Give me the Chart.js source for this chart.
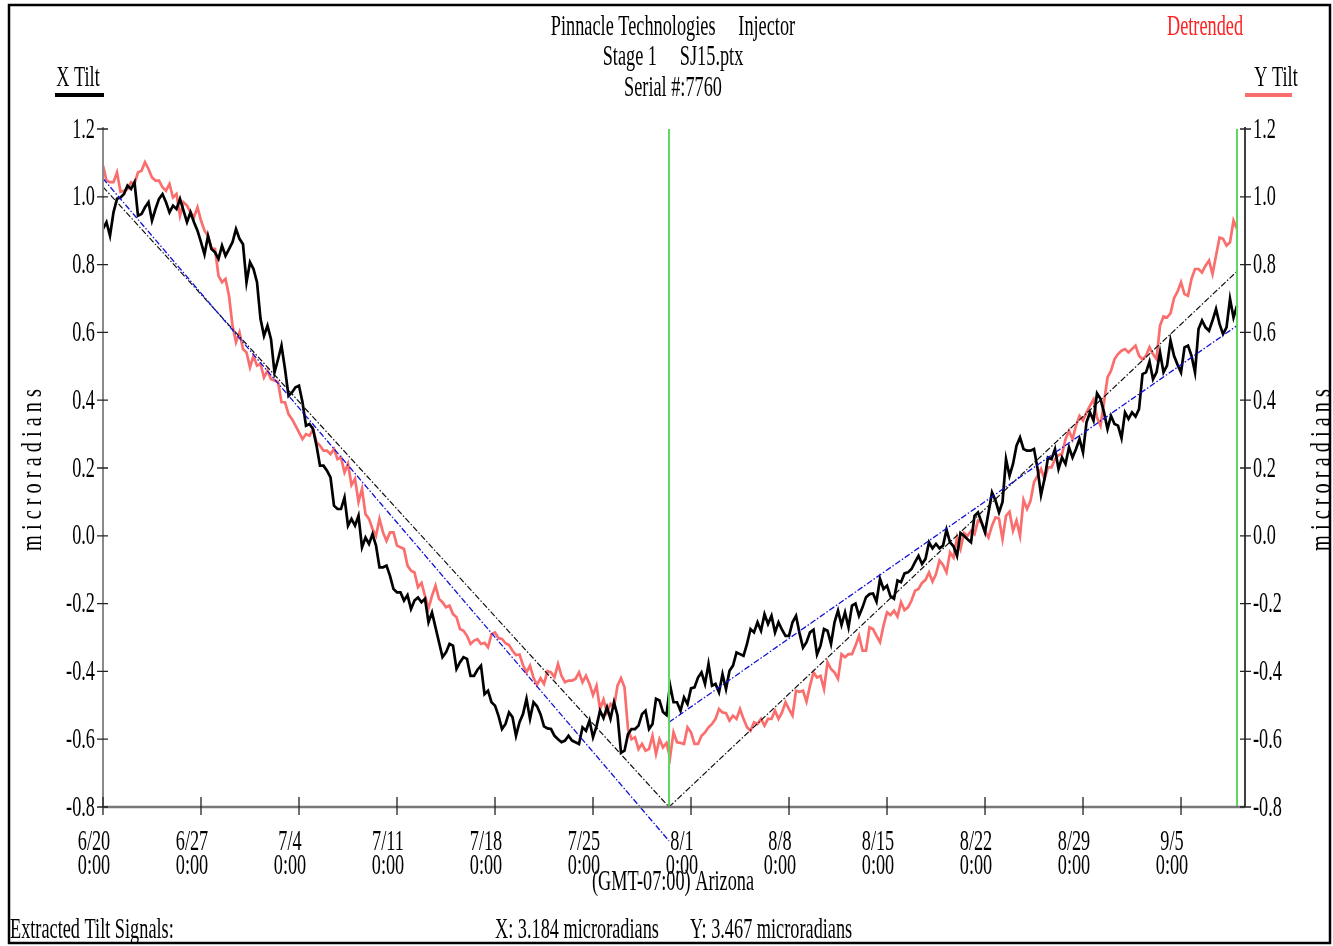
<!DOCTYPE html>
<html>
<head>
<meta charset="utf-8">
<title>Pinnacle Technologies Injector - Tilt</title>
<script src="https://cdn.jsdelivr.net/npm/chart.js@4.4.0/dist/chart.umd.min.js"></script>
<style>
  html, body { margin: 0; padding: 0; background: #fff; }
  #wrap { width: 1333px; height: 946px; }
</style>
</head>
<body>
<div id="wrap"><canvas id="tiltChart" width="1333" height="946"></canvas></div>
<script>
// one sample every quarter day, day 0 = 6/20 0:00
const sampleStep = 0.25;

// X tilt (black), microradians - 2 days per row
const xTilt = [
  0.905, 0.925, 0.885, 0.954, 0.994, 0.998, 1.008, 1.033,
  1.023, 1.043, 0.944, 0.949, 0.969, 0.984, 0.930, 0.964,
  0.994, 1.008, 0.984, 0.954, 0.974, 0.964, 0.994, 0.959,
  0.925, 0.954, 0.925, 0.900, 0.866, 0.830, 0.885, 0.846,
  0.836, 0.817, 0.856, 0.826, 0.846, 0.866, 0.905, 0.876,
  0.860, 0.748, 0.807, 0.787, 0.748, 0.640, 0.590, 0.620,
  0.580, 0.482, 0.520, 0.561, 0.492, 0.413, 0.423, 0.438,
  0.443, 0.394, 0.325, 0.330, 0.315, 0.266, 0.207, 0.207,
  0.192, 0.172, 0.089, 0.079, 0.079, 0.113, 0.030, 0.050,
  0.030, 0.059, -0.034, -0.005, -0.024, 0.005, -0.029, -0.093,
  -0.093, -0.088, -0.118, -0.157, -0.167, -0.167, -0.191, -0.175,
  -0.216, -0.191, -0.182, -0.196, -0.186, -0.255, -0.226, -0.270,
  -0.314, -0.358, -0.344, -0.319, -0.324, -0.393, -0.373, -0.358,
  -0.363, -0.413, -0.413, -0.395, -0.383, -0.467, -0.457, -0.491,
  -0.501, -0.531, -0.570, -0.555, -0.521, -0.535, -0.590, -0.550,
  -0.526, -0.481, -0.540, -0.491, -0.503, -0.526, -0.562, -0.568,
  -0.570, -0.590, -0.600, -0.609, -0.604, -0.590, -0.604, -0.609,
  -0.614, -0.565, -0.575, -0.545, -0.594, -0.562, -0.516, -0.538,
  -0.506, -0.540, -0.491, -0.530, -0.640, -0.634, -0.585, -0.570,
  -0.570, -0.560, -0.526, -0.516, -0.570, -0.555, -0.481, -0.486,
  -0.520, -0.529, -0.440, -0.491, -0.491, -0.516, -0.477, -0.496,
  -0.450, -0.447, -0.418, -0.403, -0.437, -0.378, -0.442, -0.437,
  -0.462, -0.408, -0.452, -0.398, -0.383, -0.344, -0.349, -0.354,
  -0.319, -0.275, -0.285, -0.255, -0.280, -0.231, -0.260, -0.236,
  -0.285, -0.255, -0.277, -0.295, -0.295, -0.255, -0.236, -0.287,
  -0.330, -0.314, -0.285, -0.277, -0.350, -0.324, -0.275, -0.280,
  -0.319, -0.255, -0.221, -0.263, -0.226, -0.270, -0.206, -0.200,
  -0.236, -0.211, -0.181, -0.172, -0.170, -0.194, -0.127, -0.157,
  -0.147, -0.179, -0.186, -0.132, -0.137, -0.111, -0.108, -0.098,
  -0.078, -0.059, -0.083, -0.068, -0.019, -0.037, -0.024, -0.037,
  -0.029, 0.018, -0.019, -0.031, -0.059, 0.008, 0.000, -0.010,
  -0.019, 0.059, 0.069, 0.040, 0.010, 0.069, 0.128, 0.104,
  0.069, 0.100, 0.226, 0.177, 0.212, 0.266, 0.290, 0.256,
  0.251, 0.251, 0.256, 0.199, 0.120, 0.168, 0.231, 0.226,
  0.256, 0.197, 0.231, 0.212, 0.261, 0.231, 0.256, 0.286,
  0.246, 0.335, 0.364, 0.340, 0.420, 0.404, 0.364, 0.315,
  0.354, 0.330, 0.325, 0.288, 0.364, 0.345, 0.364, 0.352,
  0.374, 0.477, 0.482, 0.514, 0.462, 0.482, 0.541, 0.482,
  0.502, 0.576, 0.531, 0.505, 0.482, 0.556, 0.561, 0.531,
  0.482, 0.610, 0.635, 0.615, 0.605, 0.635, 0.669, 0.625,
  0.595, 0.615, 0.699, 0.644, 0.679
];

// Y tilt (salmon), microradians - 2 days per row
const yTilt = [
  1.092, 1.048, 1.043, 1.043, 1.072, 1.015, 1.018, 1.023,
  1.043, 1.038, 1.072, 1.077, 1.102, 1.082, 1.057, 1.048,
  1.048, 1.028, 1.018, 1.038, 0.998, 1.008, 0.944, 0.984,
  0.974, 0.954, 0.940, 0.969, 0.930, 0.900, 0.885, 0.848,
  0.846, 0.767, 0.748, 0.758, 0.708, 0.620, 0.571, 0.600,
  0.551, 0.541, 0.497, 0.531, 0.502, 0.507, 0.467, 0.487,
  0.462, 0.458, 0.453, 0.394, 0.394, 0.359, 0.344, 0.325,
  0.305, 0.285, 0.300, 0.295, 0.315, 0.276, 0.266, 0.251,
  0.251, 0.241, 0.256, 0.226, 0.231, 0.187, 0.212, 0.150,
  0.168, 0.100, 0.138, 0.064, 0.050, 0.020, 0.000, 0.050,
  0.010, -0.015, 0.010, 0.010, -0.029, -0.034, -0.039, -0.088,
  -0.103, -0.108, -0.152, -0.139, -0.177, -0.214, -0.177, -0.147,
  -0.186, -0.196, -0.211, -0.206, -0.231, -0.240, -0.275, -0.280,
  -0.295, -0.319, -0.309, -0.305, -0.319, -0.316, -0.329, -0.290,
  -0.285, -0.302, -0.304, -0.317, -0.322, -0.339, -0.352, -0.350,
  -0.381, -0.403, -0.383, -0.419, -0.440, -0.420, -0.437, -0.399,
  -0.403, -0.417, -0.378, -0.413, -0.432, -0.427, -0.427, -0.422,
  -0.403, -0.432, -0.413, -0.437, -0.470, -0.442, -0.511, -0.483,
  -0.521, -0.496, -0.506, -0.442, -0.420, -0.447, -0.570, -0.600,
  -0.594, -0.629, -0.614, -0.634, -0.629, -0.590, -0.644, -0.600,
  -0.624, -0.611, -0.654, -0.580, -0.609, -0.611, -0.614, -0.565,
  -0.580, -0.614, -0.614, -0.590, -0.580, -0.565, -0.555, -0.540,
  -0.511, -0.521, -0.523, -0.545, -0.531, -0.540, -0.511, -0.540,
  -0.565, -0.575, -0.550, -0.555, -0.540, -0.560, -0.540, -0.540,
  -0.516, -0.540, -0.521, -0.491, -0.511, -0.530, -0.457, -0.460,
  -0.457, -0.489, -0.442, -0.403, -0.418, -0.413, -0.452, -0.373,
  -0.393, -0.403, -0.422, -0.349, -0.358, -0.349, -0.349, -0.324,
  -0.295, -0.339, -0.339, -0.270, -0.275, -0.295, -0.314, -0.265,
  -0.226, -0.234, -0.221, -0.238, -0.196, -0.219, -0.211, -0.191,
  -0.162, -0.157, -0.139, -0.130, -0.108, -0.135, -0.113, -0.073,
  -0.086, -0.108, -0.049, -0.064, -0.005, -0.039, 0.008, 0.000,
  0.015, 0.005, 0.045, 0.040, 0.015, -0.005, 0.030, 0.054,
  0.051, -0.010, 0.059, 0.071, 0.015, 0.045, 0.000, 0.106,
  0.079, 0.103, 0.158, 0.177, 0.197, 0.167, 0.202, 0.202,
  0.226, 0.238, 0.241, 0.285, 0.310, 0.285, 0.325, 0.354,
  0.340, 0.364, 0.384, 0.402, 0.349, 0.325, 0.394, 0.467,
  0.487, 0.521, 0.536, 0.546, 0.551, 0.541, 0.551, 0.561,
  0.531, 0.520, 0.531, 0.556, 0.536, 0.521, 0.620, 0.647,
  0.644, 0.656, 0.701, 0.720, 0.748, 0.713, 0.708, 0.758,
  0.787, 0.787, 0.777, 0.797, 0.812, 0.772, 0.826, 0.880,
  0.876, 0.856, 0.866, 0.930, 0.905
];

// fitted lines, [day, value]
const xFitDown = [[0, 1.029], [40.43, -0.80]];
const xFitUp = [[40.43, -0.80], [81.0, 0.78]];
const yFitDown = [[0, 1.054], [40.43, -0.90]];
const yFitUp = [[40.43, -0.55], [81.0, 0.62]];

// green markers (days)
const markerDays = [40.43, 81.0];

const xTickDays = [0, 7, 14, 21, 28, 35, 42, 49, 56, 63, 70, 77];
const xTickLabels = ['6/20', '6/27', '7/4', '7/11', '7/18', '7/25', '8/1', '8/8', '8/15', '8/22', '8/29', '9/5'];
const yTicks = [1.2, 1.0, 0.8, 0.6, 0.4, 0.2, 0.0, -0.2, -0.4, -0.6, -0.8];

const FONT = '"Liberation Serif", "Times New Roman", serif';

function toPoints(values) {
  return values.map((v, i) => ({ x: i * sampleStep, y: v }));
}
function pairs(list) {
  return list.map(p => ({ x: p[0], y: p[1] }));
}

// narrow serif text like the original plot
function squeezed(ctx, text, x, y, align, color, sx, baseline) {
  ctx.save();
  ctx.fillStyle = color || '#000';
  ctx.font = '29px ' + FONT;
  ctx.textAlign = align || 'left';
  ctx.textBaseline = baseline || 'alphabetic';
  ctx.translate(x, y);
  ctx.scale(sx || 0.63, 1);
  ctx.fillText(text, 0, 0);
  ctx.restore();
}

const framePlugin = {
  id: 'framePlugin',
  afterDraw(chart) {
    const ctx = chart.ctx;
    const xs = chart.scales.x;
    const ys = chart.scales.y;
    const area = chart.chartArea;
    const left = area.left, right = area.right, top = area.top, bottom = area.bottom;

    ctx.save();
    // outer frame
    ctx.strokeStyle = '#000';
    ctx.lineWidth = 2.5;
    ctx.strokeRect(9, 5, 1321, 938);

    // left axis (grey)
    ctx.strokeStyle = '#8a8a8a';
    ctx.lineWidth = 2;
    ctx.beginPath();
    ctx.moveTo(left, top - 2);
    ctx.lineTo(left, bottom);
    ctx.stroke();
    // bottom axis
    ctx.strokeStyle = '#777';
    ctx.lineWidth = 2.5;
    ctx.beginPath();
    ctx.moveTo(left, bottom);
    ctx.lineTo(right, bottom);
    ctx.stroke();
    // right axis (black)
    ctx.strokeStyle = '#000';
    ctx.lineWidth = 1.5;
    ctx.beginPath();
    ctx.moveTo(right, top - 2);
    ctx.lineTo(right, bottom);
    ctx.stroke();

    // y ticks + labels
    ctx.lineWidth = 1.3;
    yTicks.forEach(v => {
      const py = ys.getPixelForValue(v);
      ctx.strokeStyle = '#222';
      ctx.beginPath();
      ctx.moveTo(left - 6, py); ctx.lineTo(left + 5, py);
      ctx.moveTo(right - 5, py); ctx.lineTo(right + 6, py);
      ctx.stroke();
      const txt = v.toFixed(1);
      squeezed(ctx, txt, left - 8, py + 1, 'right', '#000', 0.63, 'middle');
      squeezed(ctx, txt, right + 8, py + 1, 'left', '#000', 0.63, 'middle');
    });

    // x ticks + labels
    xTickDays.forEach((d, i) => {
      const px = xs.getPixelForValue(d);
      ctx.strokeStyle = '#222';
      ctx.beginPath();
      ctx.moveTo(px, bottom - 10); ctx.lineTo(px, bottom + 8);
      ctx.stroke();
      squeezed(ctx, xTickLabels[i], px - 9, 850, 'center');
      squeezed(ctx, '0:00', px - 9, 874, 'center');
    });
    ctx.restore();

    // header text
    squeezed(ctx, 'Pinnacle Technologies     Injector', 673, 35, 'center');
    squeezed(ctx, 'Stage 1     SJ15.ptx', 673, 65, 'center');
    squeezed(ctx, 'Serial #:7760', 673, 96, 'center');
    squeezed(ctx, 'Detrended', 1205, 35, 'center', '#ff2020');

    squeezed(ctx, 'X Tilt', 78, 86, 'center');
    squeezed(ctx, 'Y Tilt', 1276, 86, 'center');
    ctx.save();
    ctx.fillStyle = '#000';
    ctx.fillRect(55, 93, 49, 4);
    ctx.fillStyle = '#fa6e6e';
    ctx.fillRect(1245, 93, 47, 4);
    ctx.restore();

    // axis titles
    [33, 1322].forEach(px => {
      ctx.save();
      ctx.translate(px, 470);
      ctx.rotate(-Math.PI / 2);
      squeezed(ctx, 'm i c r o r a d i a n s', 0, 0, 'center', '#000', 0.7, 'middle');
      ctx.restore();
    });

    // footer text
    squeezed(ctx, '(GMT-07:00) Arizona', 673, 890, 'center');
    squeezed(ctx, 'Extracted Tilt Signals:', 10, 938, 'left');
    squeezed(ctx, 'X: 3.184 microradians', 495, 938, 'left');
    squeezed(ctx, 'Y: 3.467 microradians', 690, 938, 'left');
  }
};

const ctx = document.getElementById('tiltChart').getContext('2d');
new Chart(ctx, {
  type: 'line',
  data: {
    datasets: [
      {
        label: 'marker1',
        data: [{ x: markerDays[0], y: -0.8 }, { x: markerDays[0], y: 1.2 }],
        borderColor: '#5fd65f', borderWidth: 2, order: 0
      },
      {
        label: 'marker2',
        data: [{ x: markerDays[1], y: -0.8 }, { x: markerDays[1], y: 1.2 }],
        borderColor: '#5fd65f', borderWidth: 2, order: 0
      },
      {
        label: 'Y fit down',
        data: pairs(yFitDown),
        borderColor: '#1212d8', borderWidth: 1.3, borderDash: [6, 2, 1.5, 2],
        clip: false, order: 1
      },
      {
        label: 'Y fit up',
        data: pairs(yFitUp),
        borderColor: '#1212d8', borderWidth: 1.3, borderDash: [6, 2, 1.5, 2], order: 1
      },
      {
        label: 'X fit down',
        data: pairs(xFitDown),
        borderColor: '#111', borderWidth: 1.2, borderDash: [6, 2, 1.5, 2], order: 1
      },
      {
        label: 'X fit up',
        data: pairs(xFitUp),
        borderColor: '#111', borderWidth: 1.2, borderDash: [6, 2, 1.5, 2], order: 1
      },
      {
        label: 'X Tilt',
        data: toPoints(xTilt),
        borderColor: '#000', borderWidth: 2.7, order: 2
      },
      {
        label: 'Y Tilt',
        data: toPoints(yTilt),
        borderColor: '#fa6e6e', borderWidth: 2.7, order: 3
      }
    ]
  },
  options: {
    responsive: false,
    animation: false,
    devicePixelRatio: 1,
    layout: { padding: { left: 103, top: 129, right: 88, bottom: 139 } },
    elements: { point: { radius: 0 }, line: { tension: 0, fill: false } },
    plugins: {
      legend: { display: false },
      tooltip: { enabled: false },
      title: { display: false }
    },
    scales: {
      x: { type: 'linear', display: false, min: 0, max: 81.57 },
      y: { type: 'linear', display: false, min: -0.8, max: 1.2 }
    }
  },
  plugins: [framePlugin]
});
</script>
</body>
</html>
